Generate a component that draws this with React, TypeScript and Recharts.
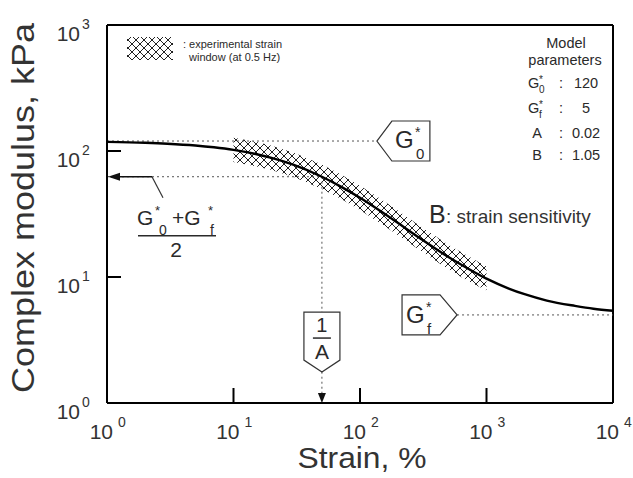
import React from "react";
import {
  ComposedChart,
  XAxis,
  YAxis,
  Line,
  Area,
  ReferenceLine,
  ReferenceDot,
} from "recharts";

// Complex modulus master curve (kPa) against strain (%)
const strain = [
  1, 2, 3, 5, 7, 10, 15, 20, 30, 50, 70, 100, 150, 200, 300, 500, 700, 1000,
  1500, 2000, 3000, 5000, 7000, 10000,
];
const modulus = [
  118.1, 116.2, 114.3, 110.6, 107.0, 102.1, 94.7, 88.2, 77.6, 62.5, 52.4, 42.5,
  32.6, 26.8, 20.2, 14.4, 11.8, 9.7, 8.1, 7.3, 6.5, 5.9, 5.6, 5.4,
];

// hatched experimental strain window (at 0.5 Hz)
const windowStrain = [10, 15, 20, 30, 50, 70, 100, 150, 200, 300, 500, 700, 1000];
const windowLow = [81.7, 75.8, 70.6, 62.1, 50.0, 41.9, 34.0, 26.1, 21.4, 16.2, 11.5, 9.4, 7.8];
const windowHigh = [127.6, 118.4, 110.3, 97.0, 78.1, 65.5, 53.1, 40.8, 33.5, 25.3, 18.0, 14.8, 12.1];

const xTicks = [1, 10, 100, 1000, 10000];
const yTicks = [1, 10, 100, 1000];

// model parameters
const g0 = 120;
const gf = 5;
const paramA = 0.02;
const paramB = 1.05;
const gMid = (g0 + gf) / 2;
const invA = 1 / paramA;

const rows = strain.map((s, i) => {
  const w = windowStrain.indexOf(s);
  return {
    strain: s,
    modulus: modulus[i],
    band: w >= 0 ? [windowLow[w], windowHigh[w]] : undefined,
  };
});

const FONT = "'Liberation Sans', Arial, sans-serif";
const INK = "#2a2a2a";
const DOT = "#555";

const exponent = (v: number) => Math.round(Math.log10(v));

const XTick = (props: any) => {
  const { x, y, payload } = props;
  const v = payload.value;
  const inner = v > xTicks[0] && v < xTicks[xTicks.length - 1];
  return (
    <g fontFamily={FONT} fill="#333">
      {inner && <line x1={x} y1={y} x2={x} y2={y - 15} stroke="#000" strokeWidth={2} />}
      <text x={x + 6} y={y + 36} textAnchor="end" fontSize={21}>
        10
      </text>
      <text x={x + 11} y={y + 24} fontSize={14}>
        {exponent(v)}
      </text>
    </g>
  );
};

const YTick = (props: any) => {
  const { x, y, payload } = props;
  const v = payload.value;
  const inner = v > yTicks[0] && v < yTicks[yTicks.length - 1];
  return (
    <g fontFamily={FONT} fill="#333">
      {inner && <line x1={x} y1={y} x2={x + 14} y2={y} stroke="#000" strokeWidth={2} />}
      <text x={x - 27} y={y + 16} textAnchor="end" fontSize={21}>
        10
      </text>
      <text x={x - 25} y={y + 4} fontSize={14}>
        {exponent(v)}
      </text>
    </g>
  );
};

// "G*" with a subscript, used inside the pointer boxes
const GStar = ({ x, y, sub }: { x: number; y: number; sub: string }) => (
  <g fontFamily={FONT} fill={INK}>
    <text x={x} y={y} fontSize={24}>G</text>
    <text x={x + 20} y={y - 11} fontSize={14}>*</text>
    <text x={x + 21} y={y + 11} fontSize={15}>{sub}</text>
  </g>
);

const G0Box = ({ cx, cy }: any) => (
  <g>
    <polygon
      points={`${cx},${cy} ${cx + 15},${cy - 20} ${cx + 53},${cy - 20} ${cx + 53},${cy + 20} ${cx + 15},${cy + 20}`}
      fill="#fff"
      stroke="#333"
      strokeWidth={1.2}
    />
    <GStar x={cx + 18} y={cy + 7} sub="0" />
  </g>
);

const GfBox = ({ cx, cy }: any) => (
  <g>
    <polygon
      points={`${cx},${cy} ${cx - 17},${cy - 20} ${cx - 55},${cy - 20} ${cx - 55},${cy + 20} ${cx - 17},${cy + 20}`}
      fill="#fff"
      stroke="#333"
      strokeWidth={1.2}
    />
    <GStar x={cx - 51} y={cy + 8} sub="f" />
  </g>
);

const InvABox = ({ cx, cy }: any) => (
  <g fontFamily={FONT} fill={INK}>
    <polygon
      points={`${cx},${cy} ${cx - 18},${cy - 12} ${cx - 18},${cy - 60} ${cx + 18},${cy - 60} ${cx + 18},${cy - 12}`}
      fill="#fff"
      stroke="#333"
      strokeWidth={1.2}
    />
    <text x={cx} y={cy - 40} textAnchor="middle" fontSize={20}>1</text>
    <line x1={cx - 9} y1={cy - 34} x2={cx + 9} y2={cy - 34} stroke={INK} strokeWidth={1.5} />
    <text x={cx} y={cy - 13} textAnchor="middle" fontSize={21}>A</text>
  </g>
);

const DownArrow = ({ cx, cy }: any) => (
  <polygon points={`${cx - 4},${cy - 10} ${cx + 4},${cy - 10} ${cx},${cy}`} fill="#111" />
);

// arrow back to the axis at (G0 + Gf)/2 with its fraction label
const MidArrow = ({ cx, cy }: any) => (
  <g fontFamily={FONT} fill={INK}>
    <line x1={cx + 4} y1={cy} x2={cx + 45} y2={cy} stroke="#111" strokeWidth={1.5} />
    <polygon points={`${cx + 1},${cy} ${cx + 13},${cy - 4} ${cx + 13},${cy + 4}`} fill="#111" />
    <line x1={cx + 45} y1={cy} x2={cx + 56} y2={cy + 21} stroke="#333" strokeWidth={1.2} />
    <text x={cx + 30} y={cy + 48} fontSize={21}>G</text>
    <text x={cx + 48} y={cy + 38} fontSize={13}>*</text>
    <text x={cx + 52} y={cy + 58} fontSize={14}>0</text>
    <text x={cx + 65} y={cy + 48} fontSize={21}>+G</text>
    <text x={cx + 101} y={cy + 38} fontSize={13}>*</text>
    <text x={cx + 103} y={cy + 58} fontSize={14}>f</text>
    <line x1={cx + 31} y1={cy + 59} x2={cx + 109} y2={cy + 59} stroke={INK} strokeWidth={1.5} />
    <text x={cx + 69} y={cy + 80} textAnchor="middle" fontSize={21}>2</text>
  </g>
);

const Hatch = ({ id }: { id: string }) => (
  <pattern id={id} width={8} height={8} patternUnits="userSpaceOnUse">
    <rect width={8} height={8} fill="#fff" />
    <path d="M0,0 L8,8 M8,0 L0,8" stroke="#222" strokeWidth={1} />
  </pattern>
);

const paramRows = [
  { label: "G", sub: "0", value: String(g0) },
  { label: "G", sub: "f", value: String(gf) },
  { label: "A", sub: "", value: paramA.toFixed(2) },
  { label: "B", sub: "", value: paramB.toFixed(2) },
];
const paramY = [88, 113, 138, 160];

export default function App() {
  return (
    <div style={{ position: "relative", width: 633, height: 478, background: "#fff" }}>
      <style>{"body{margin:0}"}</style>
      <ComposedChart
        width={633}
        height={478}
        data={rows}
        margin={{ top: 25, right: 20, bottom: 35, left: 47 }}
      >
        <defs>
          <Hatch id="strainWindow" />
        </defs>
        <XAxis
          dataKey="strain"
          type="number"
          scale="log"
          domain={[1, 10000]}
          ticks={xTicks}
          allowDataOverflow
          height={40}
          tickSize={0}
          tickMargin={0}
          axisLine={{ stroke: "#000", strokeWidth: 2 }}
          tick={<XTick />}
          interval={0}
        />
        <YAxis
          type="number"
          scale="log"
          domain={[1, 1000]}
          ticks={yTicks}
          allowDataOverflow
          width={60}
          tickSize={0}
          tickMargin={0}
          axisLine={{ stroke: "#000", strokeWidth: 2 }}
          tick={<YTick />}
          interval={0}
        />
        <ReferenceLine y={1000} stroke="#000" strokeWidth={2} />
        <ReferenceLine x={10000} stroke="#000" strokeWidth={2} />

        <ReferenceLine
          segment={[{ x: 1, y: g0 }, { x: 136, y: g0 }]}
          stroke={DOT}
          strokeDasharray="2 3"
        />
        <ReferenceLine
          segment={[{ x: 1, y: gMid }, { x: invA, y: gMid }]}
          stroke={DOT}
          strokeDasharray="2 3"
        />
        <ReferenceLine
          segment={[{ x: invA, y: gMid }, { x: invA, y: 1 }]}
          stroke={DOT}
          strokeDasharray="2 3"
        />
        <ReferenceLine
          segment={[{ x: 585, y: gf }, { x: 10000, y: gf }]}
          stroke={DOT}
          strokeDasharray="2 3"
        />

        <Area
          dataKey="band"
          stroke="none"
          fill="url(#strainWindow)"
          fillOpacity={1}
          isAnimationActive={false}
          activeDot={false}
        />
        <Line
          dataKey="modulus"
          type="monotone"
          stroke="#000"
          strokeWidth={2.4}
          dot={false}
          activeDot={false}
          isAnimationActive={false}
        />

        <ReferenceDot x={136} y={g0} r={0} shape={G0Box} />
        <ReferenceDot x={585} y={gf} r={0} shape={GfBox} />
        <ReferenceDot x={invA} y={1.76} r={0} shape={InvABox} />
        <ReferenceDot x={invA} y={1} r={0} shape={DownArrow} />
        <ReferenceDot x={1} y={gMid} r={0} shape={MidArrow} />
      </ComposedChart>

      <svg
        width={633}
        height={478}
        style={{ position: "absolute", left: 0, top: 0, pointerEvents: "none" }}
        fontFamily={FONT}
      >
        <defs>
          <Hatch id="legendHatch" />
        </defs>
        {/* legend for the hatched band */}
        <rect x={127} y={37} width={46} height={23} fill="url(#legendHatch)" />
        <text x={183} y={48} fontSize={11} fill={INK}>: experimental strain</text>
        <text x={189} y={61} fontSize={11} fill={INK}>window (at 0.5 Hz)</text>

        {/* model parameter table */}
        <text x={566} y={48} textAnchor="middle" fontSize={14.5} fill={INK}>Model</text>
        <text x={565} y={65} textAnchor="middle" fontSize={14.5} fill={INK}>parameters</text>
        {paramRows.map((r, i) => (
          <g key={i} fill={INK} fontSize={14.5}>
            {r.sub ? (
              <>
                <text x={528} y={paramY[i]}>{r.label}</text>
                <text x={539} y={paramY[i] - 5} fontSize={10}>*</text>
                <text x={539} y={paramY[i] + 5} fontSize={10}>{r.sub}</text>
              </>
            ) : (
              <text x={537} y={paramY[i]} textAnchor="middle">{r.label}</text>
            )}
            <text x={559} y={paramY[i]}>:</text>
            <text x={586} y={paramY[i]} textAnchor="middle">{r.value}</text>
          </g>
        ))}

        <text x={429} y={223} fontSize={25} fill={INK}>B</text>
        <text x={446} y={223} fontSize={19} fill="#333">: strain sensitivity</text>

        {/* axis titles */}
        <text
          x={362}
          y={468}
          textAnchor="middle"
          fontSize={30}
          fill="#333"
          textLength={129}
          lengthAdjust="spacingAndGlyphs"
        >
          Strain, %
        </text>
        <text
          transform="translate(34,208) rotate(-90)"
          textAnchor="middle"
          fontSize={31}
          fill="#333"
          textLength={370}
          lengthAdjust="spacingAndGlyphs"
        >
          Complex modulus, kPa
        </text>
      </svg>
    </div>
  );
}
